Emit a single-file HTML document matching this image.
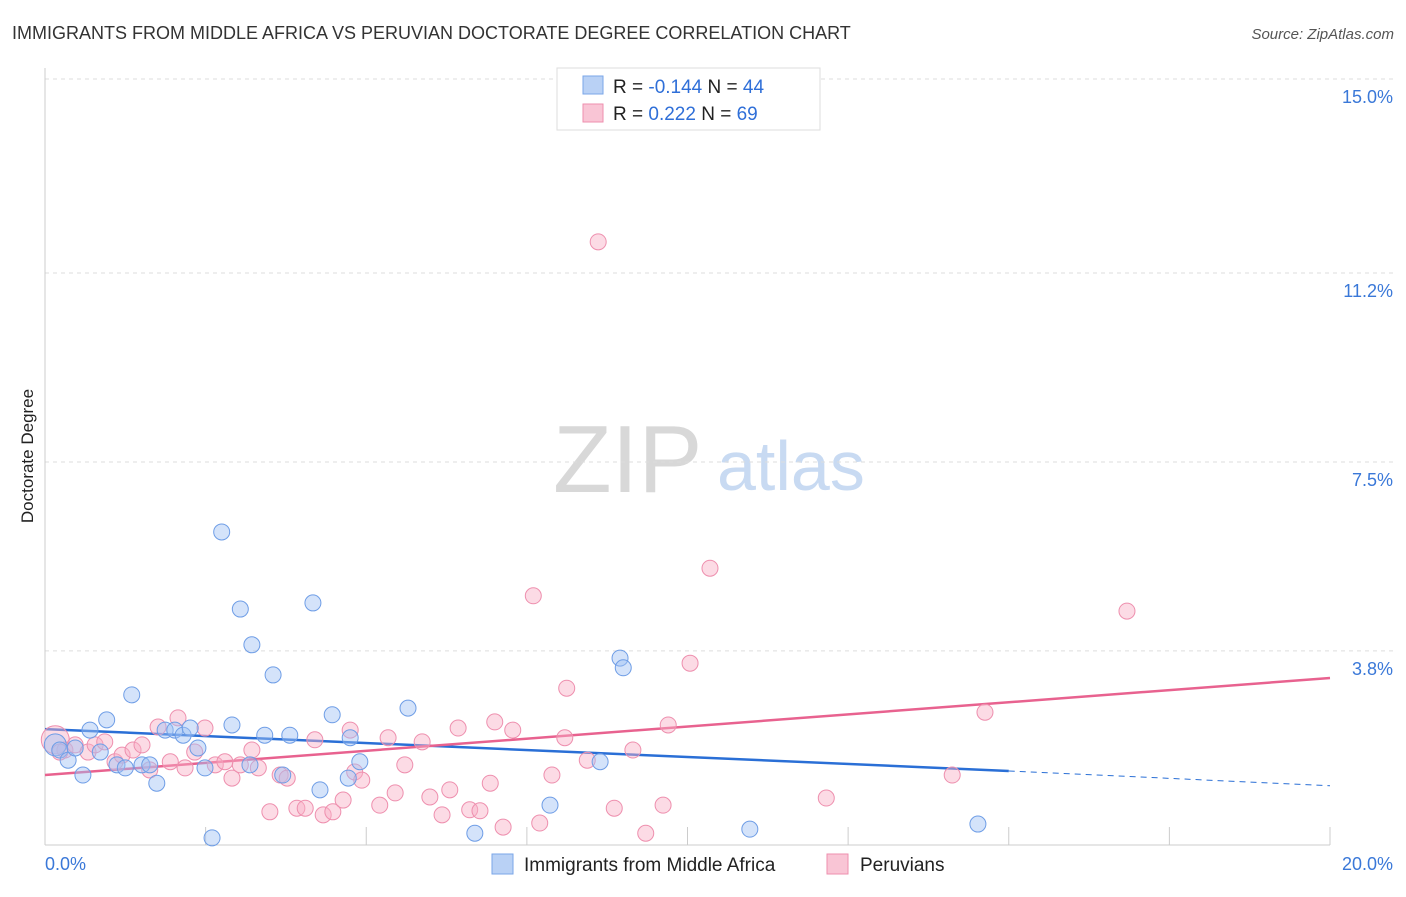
<!DOCTYPE html>
<html><head><meta charset="utf-8"><style>
body{margin:0;background:#fff;font-family:"Liberation Sans",sans-serif;}
svg text{font-family:"Liberation Sans",sans-serif;}
</style></head><body>
<svg id="chart" width="1406" height="892" xmlns="http://www.w3.org/2000/svg">
<text x="12" y="39" font-size="18" fill="#333">IMMIGRANTS FROM MIDDLE AFRICA VS PERUVIAN DOCTORATE DEGREE CORRELATION CHART</text>
<text x="1394" y="39" font-size="15" fill="#555" font-style="italic" text-anchor="end">Source: ZipAtlas.com</text>
<g>
<text x="553" y="492" font-size="96" fill="#d8d8d8" font-family="Liberation Serif,serif">ZIP</text>
<text x="717" y="490" font-size="70" fill="#c8daf2">atlas</text>
</g>
<g id="grid"></g>
<g id="axes"></g>
<text transform="translate(33,456) rotate(-90)" font-size="17" fill="#222" text-anchor="middle">Doctorate Degree</text>
<g id="lines"></g>
<g id="points"></g>
<g>
<rect x="557" y="68" width="263" height="62" fill="#fff" stroke="#ddd"/>
<rect x="583" y="76" width="20" height="18" fill="#b9d1f5" stroke="#7aa6e8"/>
<rect x="583" y="104" width="20" height="18" fill="#f9c5d5" stroke="#ee8fae"/>
<text x="613" y="93" font-size="19" fill="#222">R = <tspan fill="#2f6fd8">-0.144</tspan>   N = <tspan fill="#2f6fd8">44</tspan></text>
<text x="613" y="120" font-size="19" fill="#222">R =  <tspan fill="#2f6fd8"> 0.222</tspan>   N = <tspan fill="#2f6fd8">69</tspan></text>
</g>
<g>
<rect x="492" y="854" width="21" height="20" fill="#b9d1f5" stroke="#7aa6e8"/>
<text x="524" y="871" font-size="19" fill="#222">Immigrants from Middle Africa</text>
<rect x="827" y="854" width="21" height="20" fill="#f9c5d5" stroke="#ee8fae"/>
<text x="860" y="871" font-size="19" fill="#222">Peruvians</text>
</g>
</svg>
<script>
const yTicks=[3.8,7.5,11.2,15.0];
const yTickLabels=["3.8%","7.5%","11.2%","15.0%"];
const xTicks=[0,2.5,5,7.5,10,12.5,15,17.5,20];
const blueX=[0.16,0.23,0.36,0.47,0.59,0.70,0.86,0.96,1.12,1.25,1.35,1.51,1.63,1.74,1.87,2.02,2.15,2.26,2.38,2.49,2.60,2.75,2.91,3.04,3.19,3.22,3.42,3.55,3.70,3.81,4.17,4.28,4.47,4.72,4.75,4.90,5.65,6.69,7.86,8.64,8.95,9.00,10.97,14.52];
const blueY=[1.96,1.86,1.66,1.90,1.37,2.25,1.82,2.45,1.57,1.51,2.94,1.57,1.57,1.21,2.25,2.25,2.15,2.29,1.90,1.51,0.14,6.13,2.35,4.62,1.57,3.92,2.15,3.33,1.37,2.15,4.74,1.08,2.55,1.31,2.10,1.63,2.68,0.23,0.78,1.63,3.66,3.47,0.31,0.41];
const pinkX=[0.16,0.31,0.47,0.67,0.78,0.93,1.09,1.20,1.37,1.51,1.63,1.76,1.95,2.07,2.18,2.33,2.49,2.65,2.80,2.91,3.04,3.22,3.32,3.50,3.66,3.77,3.92,4.05,4.20,4.33,4.48,4.64,4.75,4.82,4.93,5.21,5.34,5.45,5.60,5.87,5.99,6.18,6.30,6.43,6.61,6.77,6.93,7.00,7.13,7.28,7.70,7.89,8.09,8.12,8.44,8.61,8.86,9.15,9.35,9.62,9.70,10.04,10.35,12.16,14.12,14.63,16.84,7.60,0.23];
const pinkY=[2.06,1.86,1.96,1.82,1.96,2.02,1.63,1.76,1.86,1.96,1.47,2.31,1.63,2.49,1.51,1.82,2.29,1.57,1.63,1.31,1.57,1.86,1.51,0.65,1.37,1.31,0.72,0.72,2.06,0.59,0.65,0.88,2.25,1.43,1.27,0.78,2.10,1.02,1.57,2.02,0.94,0.59,1.08,2.29,0.69,0.67,1.21,2.41,0.35,2.25,0.43,1.37,2.10,3.07,1.66,11.81,0.72,1.86,0.23,0.78,2.35,3.56,5.42,0.92,1.37,2.60,4.58,4.88,1.82];
const blueTrend=[2.27,1.45,1.16]; // at x=0, 15, 20
const pinkTrend=[1.37,3.27]; // at x=0, 20
const sx=v=>45+v*64.25, sy=v=>845-v*51.07;
const NS="http://www.w3.org/2000/svg";
function mk(tag,attrs,parent){const e=document.createElementNS(NS,tag);for(const k in attrs)e.setAttribute(k,attrs[k]);document.getElementById(parent).appendChild(e);return e;}
yTicks.forEach((t,i)=>{
 const l=mk('line',{x1:45,x2:1395,y1:sy(t),y2:sy(t),stroke:'#ddd','stroke-dasharray':'4,4'},'grid');
 
 
 const tx=mk('text',{x:1393,y:sy(t)+24,'font-size':18,fill:'#3a78d8','text-anchor':'end'},'axes');
 tx.textContent=yTickLabels[i];
 
 
});
const a1=mk('line',{x1:45,x2:45,y1:68,y2:845,stroke:'#ccc'},'axes');


const a2=mk('line',{x1:45,x2:1330,y1:845,y2:845,stroke:'#ccc'},'axes');


xTicks.forEach(t=>{const l=mk('line',{x1:sx(t),x2:sx(t),y1:827,y2:845,stroke:'#ccc'},'axes');
 
 });
const xl0=mk('text',{x:45,y:870,'font-size':18,fill:'#3a78d8'},'axes');xl0.textContent='0.0%';


const xl1=mk('text',{x:1393,y:870,'font-size':18,fill:'#3a78d8','text-anchor':'end'},'axes');xl1.textContent='20.0%';


const bl=mk('line',{x1:sx(0),y1:sy(blueTrend[0]),x2:sx(15),y2:sy(blueTrend[1]),stroke:'#2a6fd6','stroke-width':2.5},'lines');


const bd=mk('line',{x1:sx(15),y1:sy(blueTrend[1]),x2:sx(20),y2:sy(blueTrend[2]),stroke:'#2a6fd6','stroke-width':1,'stroke-dasharray':'6,5'},'lines');


const pl=mk('line',{x1:sx(0),y1:sy(pinkTrend[0]),x2:sx(20),y2:sy(pinkTrend[1]),stroke:'#e8628f','stroke-width':2.5},'lines');


pinkX.forEach((x,i)=>{const c=mk('circle',{cx:sx(x),cy:sy(pinkY[i]),r:i==0?14:8,fill:'rgba(248,175,198,0.45)',stroke:'#ee8fae','stroke-width':1},'points');
 
 });
blueX.forEach((x,i)=>{const c=mk('circle',{cx:sx(x),cy:sy(blueY[i]),r:i==0?11:8,fill:'rgba(160,192,244,0.45)',stroke:'#6e9de6','stroke-width':1},'points');
 
 });
</script>
</body></html>
